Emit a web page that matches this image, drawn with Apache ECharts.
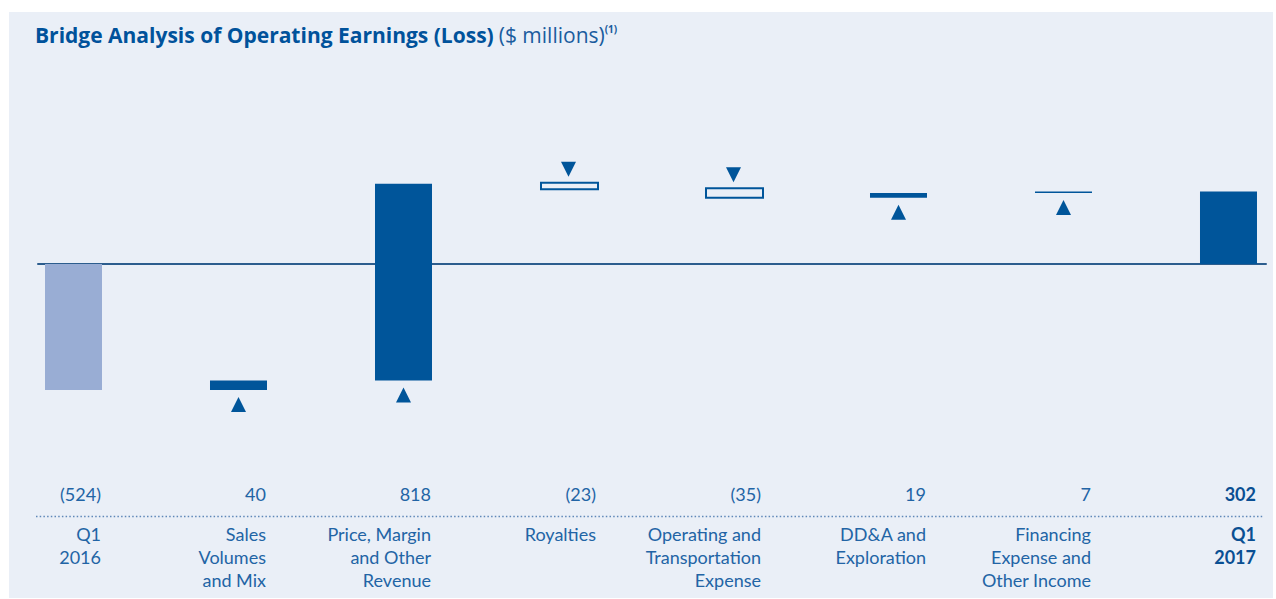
<!DOCTYPE html>
<html>
<head>
<meta charset="utf-8">
<script src="https://cdn.jsdelivr.net/npm/echarts@6/dist/echarts.min.js"></script>
<style>
  html, body { margin: 0; padding: 0; background: #ffffff; }
  #chart { width: 1276px; height: 599px; }
</style>
</head>
<body>
<div id="chart"></div>
<script>
// ---- data ----
const categories = [
  'Q1\n2016',
  'Sales\nVolumes\nand Mix',
  'Price, Margin\nand Other\nRevenue',
  'Royalties',
  'Operating and\nTransportation\nExpense',
  'DD&A and\nExploration',
  'Financing\nExpense and\nOther Income',
  'Q1\n2017'
];
const changes = [-524, 40, 818, -23, -35, 19, 7, 302];
const barKinds = ['start', 'step', 'step', 'step', 'step', 'step', 'step', 'end'];

// ---- style constants ----
const DARK = '#00559a';
const LIGHT = '#99add4';
const PANEL = '#eaeff7';
const TEXT = '#2264a5';
const FONT = 'Lato, "Open Sans", sans-serif';
const TITLE_FONT = '"Open Sans", Lato, sans-serif';
const BAR_W = 57;

function fmt(v) { return v < 0 ? '(' + Math.abs(v) + ')' : String(v); }

// waterfall ranges
const rows = [];
let running = 0;
changes.forEach((v, i) => {
  let from, to;
  if (barKinds[i] === 'step') { from = running; to = running + v; running = to; }
  else { from = 0; to = v; running = v; }
  rows.push([i, from, to]);
});

function renderItem(params, api) {
  const i = params.dataIndex;
  const cs = params.coordSys;
  const from = api.value(1), to = api.value(2);
  const p0 = api.coord([api.value(0), from]);
  const p1 = api.coord([api.value(0), to]);
  const cx = p0[0];
  const left = cx - BAR_W / 2;
  const right = cx + BAR_W / 2;
  const top = Math.min(p0[1], p1[1]);
  const bottom = Math.max(p0[1], p1[1]);
  const kind = barKinds[i];
  const v = changes[i];
  const children = [];
  const isLast = kind === 'end';

  if (kind === 'step' && v < 0) {
    children.push({
      type: 'rect',
      shape: { x: left + 1, y: top - 1, width: BAR_W, height: bottom - top + 1 },
      style: { fill: PANEL, stroke: DARK, lineWidth: 2 }
    });
    const by = top - 7;
    children.push({
      type: 'polygon',
      shape: { points: [[cx - 7.5, by - 15], [cx + 7.5, by - 15], [cx, by]] },
      style: { fill: DARK }
    });
  } else {
    children.push({
      type: 'rect',
      shape: { x: left, y: top, width: BAR_W, height: Math.max(bottom - top, 1.5) },
      style: { fill: kind === 'start' ? LIGHT : DARK }
    });
    if (kind === 'step') {
      const ty = Math.max(bottom, top + 1.5) + 7;
      children.push({
        type: 'polygon',
        shape: { points: [[cx - 7.5, ty + 15], [cx + 7.5, ty + 15], [cx, ty]] },
        style: { fill: DARK }
      });
    }
  }

  const base = cs.y + cs.height;
  children.push({
    type: 'text',
    style: {
      text: fmt(v), x: right - 1, y: base + 25,
      align: 'right', verticalAlign: 'middle',
      fontFamily: FONT, fontSize: 18, fontWeight: isLast ? 'bold' : 'normal',
      fill: isLast ? '#0a4f93' : TEXT
    }
  });
  children.push({
    type: 'text',
    style: {
      text: categories[i], x: right - 1, y: base + 54,
      align: 'right', verticalAlign: 'top', lineHeight: 23,
      fontFamily: FONT, fontSize: 18, fontWeight: isLast ? 'bold' : 'normal',
      fill: isLast ? '#0a4f93' : TEXT
    }
  });
  if (i === 0) {
    children.push({
      type: 'line',
      shape: { x1: cs.x - 2, y1: base + 48, x2: cs.x + cs.width - 3, y2: base + 48 },
      style: { stroke: '#5f88b8', lineWidth: 1.5, lineDash: [1.5, 2.2] }
    });
  }
  return { type: 'group', children };
}

const chart = echarts.init(document.getElementById('chart'), null, { renderer: 'svg' });
chart.setOption({
  backgroundColor: '#ffffff',
  animation: false,
  graphic: [{
    type: 'rect', z: -10, silent: true,
    shape: { x: 9, y: 12, width: 1264, height: 586 },
    style: { fill: PANEL }
  }],
  title: {
    left: 30, top: 19,
    text: '{b|Bridge Analysis of Operating Earnings (Loss)} {n|($ millions)}{s|(1)}',
    textStyle: {
      rich: {
        b: { fontFamily: TITLE_FONT, fontSize: 21, fontWeight: 'bold', color: '#00529b' },
        n: { fontFamily: TITLE_FONT, fontSize: 21, fontWeight: 'normal', color: '#1a5c9e' },
        s: { fontFamily: TITLE_FONT, fontSize: 10, color: '#1a5c9e', verticalAlign: 'top', padding: [0, 0, 12, 0] }
      }
    }
  },
  grid: { left: 38, right: 10, top: 59.6, height: 408.9 },
  xAxis: {
    type: 'value', min: -0.21515, max: 7.2273,
    axisLine: { show: true, onZero: true, lineStyle: { color: '#2c5d8e', width: 2 } },
    axisTick: { show: false }, axisLabel: { show: false }, splitLine: { show: false }
  },
  yAxis: {
    type: 'value', min: -850, max: 850,
    axisLine: { show: false }, axisTick: { show: false },
    axisLabel: { show: false }, splitLine: { show: false }
  },
  series: [{
    type: 'custom',
    renderItem: renderItem,
    clip: false,
    encode: { x: 0, y: [1, 2] },
    data: rows,
    z: 1
  }]
});
</script>
</body>
</html>
